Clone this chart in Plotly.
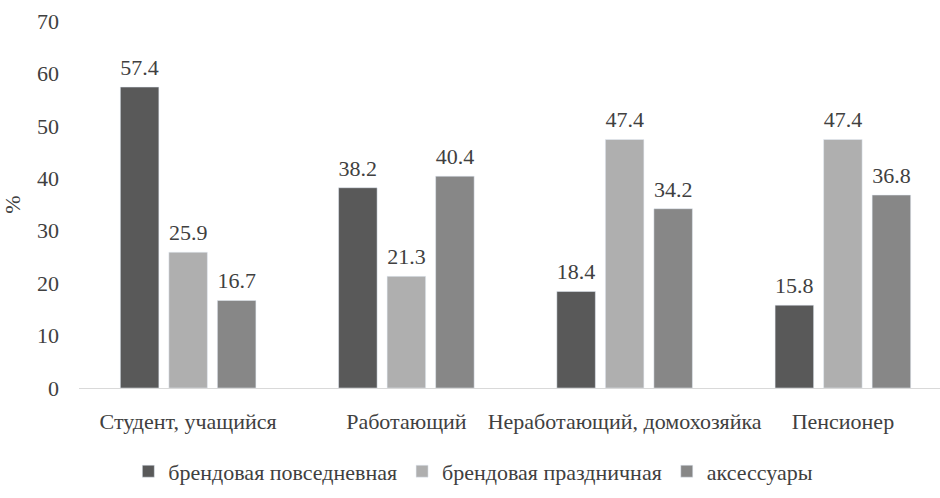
import plotly.graph_objects as go

categories = ["Студент, учащийся", "Работающий", "Неработающий, домохозяйка", "Пенсионер"]
series_names = ["брендовая повседневная", "брендовая праздничная", "аксессуары"]
everyday = [57.4, 38.2, 18.4, 15.8]
festive = [25.9, 21.3, 47.4, 47.4]
accessories = [16.7, 40.4, 34.2, 36.8]
colors = ["#595959", "#afafaf", "#878787"]
y_ticks = [0, 10, 20, 30, 40, 50, 60, 70]

FONT = "Liberation Serif"
TXT = "#404040"
FS = 22

fig = go.Figure()
for i, (name, vals, col) in enumerate(zip(series_names, [everyday, festive, accessories], colors)):
    fig.add_trace(go.Bar(
        x=categories, y=vals, name=name, marker_color=col,
        offsetgroup=str(i),
    ))
for i, vals in enumerate([everyday, festive, accessories]):
    fig.add_trace(go.Scatter(
        x=categories, y=vals, mode="markers+text",
        text=[f"{v:.1f}" for v in vals], textposition="top center",
        marker=dict(size=9, opacity=0), offsetgroup=str(i),
        textfont=dict(family=FONT, size=FS, color=TXT),
        showlegend=False, hoverinfo="skip", cliponaxis=False,
    ))

fig.update_layout(
    width=940, height=498,
    margin=dict(l=79, r=0, t=21, b=110),
    paper_bgcolor="white", plot_bgcolor="white",
    barmode="group", bargap=0.333, bargroupgap=0.206,
    scattermode="group", scattergap=0.333,
    font=dict(family=FONT, size=FS, color=TXT),
    showlegend=True,
    legend=dict(orientation="h", x=0.458, xanchor="center", y=-0.17, yanchor="top",
                font=dict(family=FONT, size=FS, color=TXT), itemwidth=30,
                tracegroupgap=0),
    xaxis=dict(range=[-0.5, 3.445], showline=True, linecolor="#d9d9d9", linewidth=1,
               ticks="", ticklabelstandoff=14, automargin=False,
               tickfont=dict(family=FONT, size=FS, color=TXT), showgrid=False),
    yaxis=dict(range=[0, 70], tickvals=y_ticks, showgrid=False, zeroline=False,
               showline=False, ticklabelstandoff=19, automargin=False,
               tickfont=dict(family=FONT, size=FS, color=TXT),
               title=dict(text="%", font=dict(family=FONT, size=FS, color=TXT), standoff=30)),
)

fig.write_html("out.html")
